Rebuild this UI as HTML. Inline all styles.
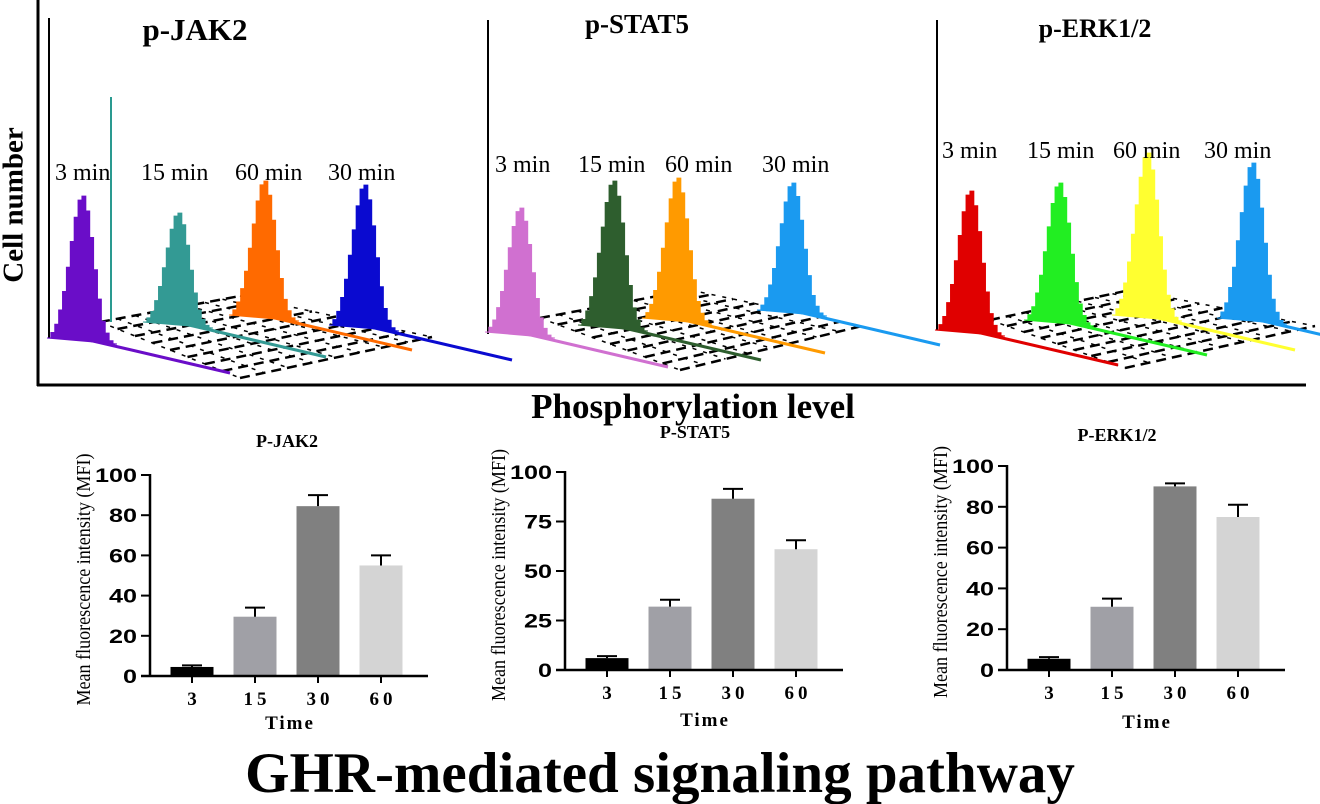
<!DOCTYPE html>
<html><head><meta charset="utf-8"><style>
body{margin:0;background:#fff;width:1320px;height:804px;overflow:hidden}
svg{display:block}
.serif{font-family:"Liberation Serif",serif}
.sans{font-family:"Liberation Sans",sans-serif}
</style></head><body>
<svg id="fig" width="1320" height="804" viewBox="0 0 1320 804">
<g id="topg">
 <line x1="38" y1="0" x2="38" y2="386" stroke="#000" stroke-width="3"/>
 <line x1="37" y1="385" x2="1306" y2="385" stroke="#000" stroke-width="3"/>
 <line x1="49" y1="18" x2="49" y2="338" stroke="#000" stroke-width="2"/>
 <line x1="111" y1="97" x2="111" y2="322" stroke="#2a9a90" stroke-width="2"/>
 <line x1="488" y1="20" x2="488" y2="334" stroke="#000" stroke-width="2"/>
 <line x1="937" y1="20" x2="937" y2="330" stroke="#000" stroke-width="2"/>
 <text x="16" y="205" transform="rotate(-90 16 205)" text-anchor="middle" class="serif" font-weight="bold" font-size="29" dominant-baseline="middle">Cell number</text>
 <text x="693" y="418" text-anchor="middle" class="serif" font-weight="bold" font-size="35">Phosphorylation level</text>
 <text x="195" y="40" text-anchor="middle" class="serif" font-weight="bold" font-size="31">p-JAK2</text>
 <text x="637" y="33" text-anchor="middle" class="serif" font-weight="bold" font-size="27">p-STAT5</text>
 <text x="1095" y="37" text-anchor="middle" class="serif" font-weight="bold" font-size="26">p-ERK1/2</text>
</g>
<g id="bars"></g>
<text x="660" y="792" text-anchor="middle" class="serif" font-weight="bold" font-size="57">GHR-mediated signaling pathway</text>
</svg>
<script>
const NS="http://www.w3.org/2000/svg";
const fig=document.getElementById('fig');
function mk(tag,attrs,parent){const e=document.createElementNS(NS,tag);for(const k in attrs)e.setAttribute(k,attrs[k]);(parent||fig).appendChild(e);return e;}

const panelLabels=["3 min","15 min","60 min","30 min"];
const p1LabelX=[55,141,235,328], p2LabelX=[495,578,665,762], p3LabelX=[942,1027,1113,1204];
const p1Peaks=[[80,193,338],[176,210,322],[262,178,315],[362,182,325]];
const p2Peaks=[[518,205,332],[611,178,325],[675,175,318],[790,180,310]];
const p3Peaks=[[968,188,330],[1057,180,320],[1145,150,315],[1250,160,318]];
const p1Colors=["#6a0dc8","#339a94","#ff6a00","#0a0ad0"];
const p2Colors=["#d070d0","#2e5e2e","#ff9a00","#1a9af0"];
const p3Colors=["#e00000","#22ee22","#ffff30","#1a9af0"];
const panels=[
 {lx:p1LabelX,ly:180,peaks:p1Peaks,colors:p1Colors,grid:[[100,322],[240,296],[432,337],[240,378]]},
 {lx:p2LabelX,ly:172,peaks:p2Peaks,colors:p2Colors,grid:[[540,318],[690,290],[862,326],[680,370]]},
 {lx:p3LabelX,ly:158,peaks:p3Peaks,colors:p3Colors,grid:[[990,320],[1130,290],[1315,326],[1125,368]]}
];
const topG=document.getElementById('topg');
panels.forEach((p,pi)=>{
  const g=p.grid;
  const n=8;
  for(let i=0;i<=n;i++){
    const t=i/n;
    const a=[g[0][0]+(g[3][0]-g[0][0])*t,g[0][1]+(g[3][1]-g[0][1])*t];
    const b=[g[1][0]+(g[2][0]-g[1][0])*t,g[1][1]+(g[2][1]-g[1][1])*t];
    const l=mk('line',{x1:a[0],y1:a[1],x2:b[0],y2:b[1],stroke:'#000','stroke-width':2.5,'stroke-dasharray':'10 6'},topG);
    
    
    const c=[g[0][0]+(g[1][0]-g[0][0])*t,g[0][1]+(g[1][1]-g[0][1])*t];
    const d=[g[3][0]+(g[2][0]-g[3][0])*t,g[3][1]+(g[2][1]-g[3][1])*t];
    const l2=mk('line',{x1:c[0],y1:c[1],x2:d[0],y2:d[1],stroke:'#000','stroke-width':1.5,'stroke-dasharray':'4 7'},topG);
    
    
  }
  p.peaks.forEach((pk,i)=>{
    const [cx,ty,by]=pk;const col=p.colors[i];
    const tl=mk('line',{x1:cx,y1:by,x2:cx+150,y2:by+35,stroke:col,'stroke-width':3},topG);
    
    
    const h=by-ty, w=33;
    const prof=[0,0.04,0.1,0.2,0.33,0.5,0.68,0.85,0.97,1,0.9,0.72,0.5,0.3,0.15,0.07,0.02,0];
    let pts=[];
    const sw=2*w/(prof.length-1);
    prof.forEach((v,k)=>{const x=cx-w+k*sw;const y=by-v*h+(k/(prof.length-1))*6;pts.push(x+','+y);pts.push((x+sw)+','+y);});
    pts.push((cx+w+4)+','+(by+6));pts.push((cx-w)+','+by);
    const pg=mk('polygon',{points:pts.join(' '),fill:col,stroke:col,'stroke-width':1},topG);
    
    
    const tx=mk('text',{x:p.lx[i],y:p.ly,class:'serif','font-size':24},topG);
    tx.textContent=panelLabels[i];
    
    
  });
});

const categories=["3","15","30","60"];
const jakValues=[4.5,29.5,84.5,55];
const jakErrors=[5.3,34,90,60];
const statValues=[6,32,86.5,61];
const statErrors=[7,35.5,91.5,65.5];
const erkValues=[5.5,31,90,75];
const erkErrors=[6.3,35,91.5,81];
const jakTicks=[0,20,40,60,80,100];
const statTicks=[0,25,50,75,100];
const erkTicks=[0,20,40,60,80,100];
const barColors=["#000000","#a0a0a6","#808080","#d4d4d4"];
const charts=[
 {title:"P-JAK2",vals:jakValues,errs:jakErrors,ticks:jakTicks,ax:150,y0:676,y100:475,ty:447,tcx:287,timeY:729},
 {title:"P-STAT5",vals:statValues,errs:statErrors,ticks:statTicks,ax:565,y0:670,y100:472,ty:438,tcx:695,timeY:726},
 {title:"P-ERK1/2",vals:erkValues,errs:erkErrors,ticks:erkTicks,ax:1007,y0:670,y100:466,ty:441,tcx:1117,timeY:728}
];
const bg=document.getElementById('bars');
charts.forEach((c,ci)=>{
  const g=mk('g',{},bg);
  
  
  const y=v=>c.y0+(c.y100-c.y0)*v/100;
  const x=i=>c.ax+42+i*63;
  const bw=43;
  const t=mk('text',{x:c.tcx,y:c.ty,'text-anchor':'middle',class:'serif','font-weight':'bold','font-size':18},g);
  t.textContent=c.title;
  
  
  c.vals.forEach((v,i)=>{
    const r=mk('rect',{x:x(i)-bw/2,y:y(v),width:bw,height:c.y0-y(v),fill:barColors[i]},g);
    
    
    const e=mk('path',{d:`M${x(i)} ${y(v)}V${y(c.errs[i])}M${x(i)-10} ${y(c.errs[i])}H${x(i)+10}`,stroke:'#000','stroke-width':2,fill:'none'},g);
    
    
    mk('line',{x1:x(i),y1:c.y0,x2:x(i),y2:c.y0+7,stroke:'#000','stroke-width':2},g);
    const lt=mk('text',{x:x(i)+2,y:c.y0+29,'text-anchor':'middle',class:'serif','font-weight':'bold','font-size':19,'letter-spacing':4},g);
    lt.textContent=categories[i];
    
    
  });
  mk('line',{x1:c.ax,y1:c.y100-1,x2:c.ax,y2:c.y0+1,stroke:'#000','stroke-width':2.5},g);
  mk('line',{x1:c.ax-9,y1:c.y0,x2:c.ax+278,y2:c.y0,stroke:'#000','stroke-width':2.5},g);
  c.ticks.forEach(tv=>{
    mk('line',{x1:c.ax-9,y1:y(tv),x2:c.ax,y2:y(tv),stroke:'#000','stroke-width':2},g);
    const s=String(tv);
    const tt=mk('text',{x:c.ax-13,y:y(tv)+7,'text-anchor':'end',class:'sans','font-weight':'bold','font-size':19,textLength:s.length*14,lengthAdjust:'spacingAndGlyphs'},g);
    tt.textContent=tv;
    
    
  });
  const yl=mk('text',{x:0,y:0,transform:`translate(${c.ax-60} ${(c.y0+c.y100)/2+4}) rotate(-90)`,'text-anchor':'middle',class:'serif','font-size':20,textLength:252,lengthAdjust:'spacingAndGlyphs'},g);
  yl.textContent="Mean fluorescence intensity (MFI)";
  
  
  const xl=mk('text',{x:c.ax+140,y:c.timeY,'text-anchor':'middle',class:'serif','font-weight':'bold','font-size':19,'letter-spacing':2},g);
  xl.textContent="Time";
  
  
});
</script>
</body></html>
